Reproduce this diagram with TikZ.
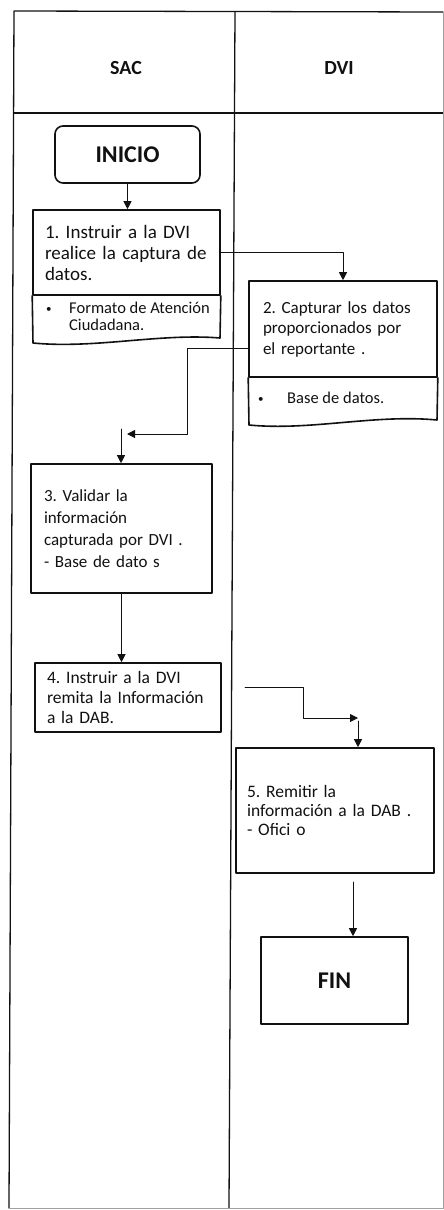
\documentclass[tikz,border=0pt]{standalone}
\usepackage{fontspec}
\setmainfont{Carlito}
\usepackage{tikz}
\usetikzlibrary{arrows.meta,positioning}
\definecolor{swInk}{HTML}{111111}
\definecolor{swFaint}{HTML}{A0A0A0}
\frenchspacing
\newcommand{\swbullet}{\raisebox{1pt}{\fontsize{11}{11}\selectfont\textbullet}}
\tikzset{
  sw diagram/.style={x=1pt, y=-1pt, text=swInk,
    line cap=round, line join=round},
  sw lane/.style={draw=swInk, line width=1.3pt},
  sw lane faint/.style={draw=swFaint, line width=0.6pt},
  sw head/.style={font=\bfseries\fontsize{20}{22}\selectfont},
  sw box/.style={draw=swInk, fill=white, line width=1.6pt, align=left,
    inner ysep=2pt, font=\fontsize{17}{20.5}\selectfont},
  sw terminal/.style={draw=swInk, fill=white, line width=1.6pt,
    font=\bfseries\fontsize{24}{26}\selectfont},
  sw doc/.style={draw=swInk, line width=1.6pt},
  sw note/.style={align=left, inner sep=0pt,
    font=\fontsize{16.5}{17}\selectfont},
  sw arrow/.style={-{Triangle[length=8pt,width=8pt]}, draw=swInk,
    line width=1pt}
}

\begin{document}
\begin{tikzpicture}[sw diagram]
\useasboundingbox (0,0) rectangle (444,1210);
% carriles
\draw[sw lane] (9,1208) -- (14,11) -- (443,12);
\draw[sw lane] (14,113) -- (443,113);
\draw[sw lane] (235,12) -- (229,1208);
\draw[sw lane faint] (443,12) -- (443,1208) -- (9,1208);
\node[sw head] (sac) at (126,68) {SAC};
\node[sw head] (dvi) at (339,68) {DVI};

% actividades
\node[sw terminal, rounded corners=8pt, minimum width=145pt,
  minimum height=57pt] (inicio) at (127.5,154.5) {INICIO};
\node[sw box, text width=163pt, inner xsep=12pt, minimum height=85pt,
  font=\fontsize{19}{21}\selectfont] (paso1) at (126.5,252.5)
  {1. Instruir a la DVI\\ \mbox{realice la captura de}\\ datos.};
\draw[sw doc] (paso1.south west) -- (33,343)
  .. controls (95,349) and (160,333) .. (220,338) -- (paso1.south east);
\node[sw note, anchor=west] (nota1) at (46,316.5)
  {\makebox[23pt][l]{\swbullet}Formato de Atención\\\hspace*{23pt}Ciudadana.};

\node[sw box, text width=160pt, inner xsep=14pt, minimum height=96pt]
  (paso2) at (343,329) {2. Capturar los datos\\ proporcionados por\\ el reportante .};
\draw[sw doc] (paso2.south west) -- (249,425)
  .. controls (310,431) and (375,414) .. (437,420) -- (paso2.south east);
\node[sw note, anchor=west] (nota2) at (258,398)
  {\makebox[29pt][l]{\swbullet}Base de datos.};

\node[sw box, text width=155pt, inner xsep=13pt, minimum height=129pt,
  font=\fontsize{17}{22}\selectfont] (paso3) at (121.5,528.5)
  {3. Validar la\\ información\\ capturada por DVI .\\ - Base de dato s};
\node[sw box, text width=162pt, inner xsep=12pt, minimum height=69pt,
  font=\fontsize{17.5}{20}\selectfont] (paso4) at (128,697.5)
  {4. Instruir a la DVI\\ remita la Información\\ a la DAB.};
\node[sw box, text width=176pt, inner xsep=11pt, minimum height=125pt,
  font=\fontsize{17.5}{19}\selectfont] (paso5) at (335,810.5)
  {5. Remitir la\\ información a la DAB .\\ - Ofici o};
\node[sw terminal, minimum width=147pt, minimum height=87pt]
  (fin) at (334.5,980.5) {FIN};

% conectores
\coordinate (codo2) at (187,434);
\coordinate (union3) at (127,434);
\coordinate (tope3) at (121,429);
\coordinate (salida4) at (245,687);
\coordinate (codo4) at (303,718);
\coordinate (union5) at (358,718);
\coordinate (salida5) at (353,882);
\draw[sw arrow] (inicio.south) -- (inicio.south |- paso1.north);
\draw[sw arrow] (paso1.east) -| (paso2.north);
\draw[sw arrow] ([yshift=-19pt]paso2.west) -| (codo2) -- (union3);
\draw[sw arrow] (tope3) -- (tope3 |- paso3.north);
\draw[sw arrow] (paso3.south) -- (paso3.south |- paso4.north);
\draw[sw arrow] (salida4) -| (codo4) -- (union5);
\draw[sw arrow] ([yshift=-3pt]union5) -- (union5 |- paso5.north);
\draw[sw arrow] (salida5) -- (salida5 |- fin.north);
\end{tikzpicture}
\end{document}
